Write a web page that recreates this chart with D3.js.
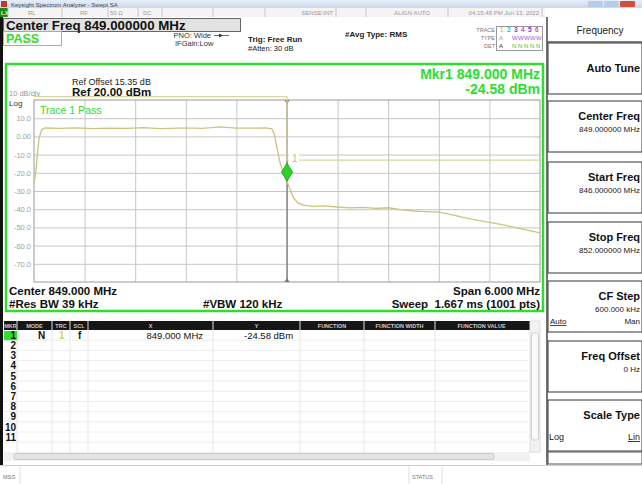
<!DOCTYPE html>
<html>
<head>
<meta charset="utf-8">
<script src="https://cdn.jsdelivr.net/npm/d3@7"></script>
<style>
  html, body { margin: 0; padding: 0; background: #fff; }
  svg { display: block; font-family: "Liberation Sans", Arial, sans-serif; }
</style>
</head>
<body>
<div class="sa-wrapper"></div>
<script>
// trace 1 (MHz / dBm)
const traceFreq = [846.000, 846.020, 846.040, 846.060, 846.090, 846.130, 846.300, 846.500, 846.700, 846.900,
  847.100, 847.300, 847.500, 847.700, 847.900, 848.000, 848.200, 848.400, 848.600, 848.750,
  848.820, 848.850, 848.880, 848.920, 848.960, 849.000, 849.040, 849.080, 849.130, 849.200,
  849.300, 849.450, 849.600, 849.750, 849.900, 850.050, 850.200, 850.350, 850.500, 850.650,
  850.800, 850.950, 851.100, 851.250, 851.400, 851.550, 851.700, 851.850, 852.000];
const traceDbm = [-25.5, -20, -10, -1, 3.5, 4.6, 4.4, 4.7, 4.3, 4.6,
  4.4, 4.8, 4.3, 4.5, 4.6, 4.4, 5.2, 4.6, 4.5, 4.7,
  4.2, 1.0, -6, -15, -20.5, -24.58, -29.5, -34, -36.5, -37.8,
  -38.4, -38.2, -38.8, -39.3, -39.0, -39.6, -39.2, -40.2, -41.0, -41.3,
  -41.6, -43.0, -44.6, -46.0, -47.3, -48.5, -50.0, -51.5, -53.0];

// limit line
const limitFreq = [846, 849, 849, 852];
const limitDbm = [21.8, 21.8, -13, -13];

const markerFreq = 849.0;
const markerDbm = -24.58;

const yTicks = [10, 0, -10, -20, -30, -40, -50, -60, -70];
const yTickLabels = ['10.0', '0.00', '-10.0', '-20.0', '-30.0', '-40.0', '-50.0', '-60.0', '-70.0'];
const xTicks = [846.6, 847.2, 847.8, 848.4, 849.0, 849.6, 850.2, 850.8, 851.4];

const statusLeft = ['RL', 'RF', '50 Ω', 'DC'];
const statusRight = ['SENSE:INT', 'ALIGN AUTO', '04:15:48 PM Jun 13, 2022'];
const statusEdges = [8, 62, 108, 138, 162, 213, 265, 336, 366, 448, 542];

const tableHeaders = ['MKR', 'MODE', 'TRC', 'SCL', 'X', 'Y', 'FUNCTION', 'FUNCTION WIDTH', 'FUNCTION VALUE'];
const tableEdges = [4, 17, 52, 70, 88, 213, 300, 364, 435, 528];
const markerRow = ['1', 'N', '1', 'f', '849.000 MHz', '-24.58 dBm'];
const rowNumbers = ['1', '2', '3', '4', '5', '6', '7', '8', '9', '10', '11'];

const keyTitles = ['Auto Tune', 'Center Freq', 'Start Freq', 'Stop Freq', 'CF Step', 'Freq Offset', 'Scale Type'];
const keyValues = ['', '849.000000 MHz', '846.000000 MHz', '852.000000 MHz', '600.000 kHz', '0 Hz', ''];
const keyTops = [43, 101, 162, 222, 281, 341, 400];

const W = 642, H = 484;
const green = '#2fdc2f';
const traceCol = '#c9c57c';

const svg = d3.select('.sa-wrapper')
  .append('svg')
  .attr('width', W)
  .attr('height', H);

// ---- title bar / status bar
const tg = svg.append('defs').append('linearGradient')
  .attr('id', 'tbar').attr('x1', 0).attr('x2', 0).attr('y1', 0).attr('y2', 1);
tg.append('stop').attr('offset', 0).attr('stop-color', '#e6eef8');
tg.append('stop').attr('offset', 1).attr('stop-color', '#c9d8ec');
svg.append('rect').attr('x', 0).attr('y', 0).attr('width', W).attr('height', 8).attr('fill', 'url(#tbar)');
svg.append('rect').attr('x', 1).attr('y', 1).attr('width', 6).attr('height', 6).attr('fill', '#c0392b');
svg.append('text').attr('x', 11).attr('y', 6.5).attr('font-size', 6).attr('fill', '#445').text('Keysight Spectrum Analyzer - Swept SA');
[[588, '#b9cde6'], [604, '#b9cde6'], [620, '#d0503a']].forEach(b => {
  svg.append('rect').attr('x', b[0]).attr('y', 1).attr('width', 15).attr('height', 6).attr('rx', 1).attr('fill', b[1]);
});

svg.append('rect').attr('x', 0).attr('y', 8).attr('width', 545).attr('height', 9).attr('fill', '#f4f4f4');
svg.append('rect').attr('x', 0).attr('y', 8).attr('width', 8).attr('height', 9).attr('fill', '#1c8a1c');
svg.append('text').attr('x', 1).attr('y', 15).attr('font-size', 6).attr('font-weight', 'bold').attr('fill', '#dfd').text('LX');
statusEdges.forEach(xx => {
  svg.append('line').attr('x1', xx).attr('x2', xx).attr('y1', 8).attr('y2', 17).attr('stroke', '#c8c8c8');
});
[28, 80, 110, 143].forEach((xx, i) => {
  svg.append('text').attr('x', xx).attr('y', 15).attr('font-size', 6).attr('fill', '#999').text(statusLeft[i]);
});
[333, 430, 539].forEach((xx, i) => {
  svg.append('text').attr('x', xx).attr('y', 15).attr('font-size', 6).attr('text-anchor', 'end').attr('fill', '#999').text(statusRight[i]);
});

// ---- analyzer area
svg.append('rect').attr('x', 0).attr('y', 17).attr('width', 3).attr('height', 448).attr('fill', '#111');
svg.append('rect').attr('x', 3.5).attr('y', 18.5).attr('width', 237).attr('height', 13).attr('fill', '#e2e2e2').attr('stroke', '#666');
svg.append('text').attr('x', 6).attr('y', 29.5).attr('font-size', 13.3).attr('font-weight', 'bold').attr('fill', '#111')
  .text('Center Freq 849.000000 MHz');
svg.append('rect').attr('x', 3.5).attr('y', 31.5).attr('width', 58).attr('height', 14).attr('fill', '#fff').attr('stroke', '#aaa');
svg.append('text').attr('x', 6).attr('y', 43).attr('font-size', 12.5).attr('font-weight', 'bold').attr('fill', green).text('PASS');

svg.append('text').attr('x', 211).attr('y', 38).attr('font-size', 7.5).attr('text-anchor', 'end').attr('fill', '#333').text('PNO: Wide');
// PNO arrow glyph
svg.append('line').attr('x1', 214).attr('x2', 229).attr('y1', 35.5).attr('y2', 35.5).attr('stroke', '#444').attr('stroke-width', 0.8);
svg.append('path').attr('d', 'M219,33.5L223,35.5L219,37.5Z').attr('fill', '#333');
svg.append('text').attr('x', 175).attr('y', 46).attr('font-size', 7.5).attr('fill', '#333').text('IFGain:Low');
svg.append('text').attr('x', 248).attr('y', 42).attr('font-size', 8).attr('font-weight', 'bold').attr('fill', '#222').text('Trig: Free Run');
svg.append('text').attr('x', 248).attr('y', 51).attr('font-size', 7.5).attr('fill', '#222').text('#Atten: 30 dB');
svg.append('text').attr('x', 345).attr('y', 37).attr('font-size', 8).attr('font-weight', 'bold').attr('fill', '#222').text('#Avg Type: RMS');

// trace status block
const trRows = [['TRACE', 29], ['TYPE', 37], ['DET', 45]];
trRows.forEach(r => {
  svg.append('text').attr('x', 495).attr('y', r[1] + 2.5).attr('font-size', 5.5).attr('text-anchor', 'end').attr('fill', '#777').text(r[0]);
});
svg.append('rect').attr('x', 496.5).attr('y', 26.5).attr('width', 46).attr('height', 24).attr('fill', 'none').attr('stroke', '#999');
const trColors = ['#e6d800', '#27b5e6', '#3b5fe0', '#e04aa0', '#6a3be0', '#e05a8a'];
trColors.forEach((c, i) => {
  svg.append('text').attr('x', 500 + i * 7).attr('y', 31.5).attr('font-size', 6.5).attr('font-weight', 'bold').attr('fill', c).text(i + 1);
  svg.append('text').attr('x', 506 + i * 6).attr('y', 39.5).attr('font-size', 6).attr('fill', '#8a6ad0').text(i === 0 ? '' : 'W');
  svg.append('text').attr('x', 506 + i * 6).attr('y', 47.5).attr('font-size', 6).attr('fill', '#35c035').text(i === 0 ? '' : 'N');
});
svg.append('text').attr('x', 499).attr('y', 39.5).attr('font-size', 6).attr('fill', '#999').text('A');
svg.append('text').attr('x', 499).attr('y', 47.5).attr('font-size', 6).attr('fill', '#333').text('A');

// green display frame
svg.append('rect').attr('x', 6).attr('y', 64).attr('width', 537).attr('height', 247)
  .attr('fill', '#fff').attr('stroke', green).attr('stroke-width', 2.5);

// ---- graticule
const plotL = 34, plotR = 540, plotT = 100, plotB = 282;
const x = d3.scaleLinear().domain([846, 852]).range([plotL, plotR]);
const y = d3.scaleLinear().domain([-80, 20]).range([plotB, plotT]);

const gx = svg.append('g')
  .attr('transform', `translate(0,${plotB})`)
  .call(d3.axisBottom(x).tickValues(xTicks).tickSize(-(plotB - plotT)).tickFormat(''));
gx.select('.domain').remove();
gx.selectAll('.tick line').attr('stroke', '#c6c6c6');

const gy = svg.append('g')
  .attr('transform', `translate(${plotL},0)`)
  .call(d3.axisLeft(y).tickValues(yTicks).tickSize(-(plotR - plotL)).tickPadding(3)
    .tickFormat((d, i) => yTickLabels[i]));
gy.select('.domain').remove();
gy.selectAll('.tick line').attr('stroke', '#c6c6c6');
gy.selectAll('.tick text').attr('fill', '#a0a0a0').attr('font-size', 7.5)
  .attr('font-family', '"Liberation Sans", Arial, sans-serif');

svg.append('rect').attr('x', plotL).attr('y', plotT).attr('width', plotR - plotL).attr('height', plotB - plotT)
  .attr('fill', 'none').attr('stroke', '#9a9a9a');

// center line with tick arrows
const cx = x(849);
svg.append('line').attr('x1', cx).attr('x2', cx).attr('y1', plotT).attr('y2', plotB).attr('stroke', '#7a7a7a').attr('stroke-width', 1.3);
svg.append('path').attr('d', `M${cx - 2.5},${plotT}L${cx + 2.5},${plotT}L${cx},${plotT + 4}Z`).attr('fill', '#777');
svg.append('path').attr('d', `M${cx - 2.5},${plotB}L${cx + 2.5},${plotB}L${cx},${plotB - 4}Z`).attr('fill', '#777');

// limit line
const limitLine = d3.line().x(d => x(d[0])).y(d => y(d[1]));
svg.append('path')
  .attr('d', limitLine(limitFreq.map((f, i) => [f, limitDbm[i]])))
  .attr('fill', 'none').attr('stroke', '#d8d6a2').attr('stroke-width', 1.3);

// trace
const traceLine = d3.line().x(d => x(d[0])).y(d => y(d[1]));
svg.append('path')
  .attr('d', traceLine(traceFreq.map((f, i) => [f, traceDbm[i]])))
  .attr('fill', 'none').attr('stroke', traceCol).attr('stroke-width', 1.3);

// marker
const mx = x(markerFreq), my = y(markerDbm);
svg.append('rect').attr('x', mx + 2).attr('y', y(-13) - 9).attr('width', 10).attr('height', 11).attr('fill', '#fff');
svg.append('path').attr('d', `M${mx},${my}L${mx + 5.5},${my - 9}L${mx},${my - 18}L${mx - 5.5},${my - 9}Z`)
  .attr('fill', '#27d427').attr('stroke', '#169a16').attr('stroke-width', 0.8);
svg.append('text').attr('x', mx + 5).attr('y', y(-13) + 2).attr('font-size', 10).attr('fill', '#c2bf6a').text('1');

// display annotations
svg.append('text').attr('x', 72).attr('y', 85).attr('font-size', 9).attr('fill', '#222').text('Ref Offset 15.35 dB');
svg.append('text').attr('x', 72).attr('y', 96).attr('font-size', 11.5).attr('font-weight', 'bold').attr('fill', '#111').text('Ref 20.00 dBm');
svg.append('text').attr('x', 9).attr('y', 96).attr('font-size', 7.5).attr('fill', '#999').text('10 dB/div');
svg.append('text').attr('x', 9).attr('y', 106).attr('font-size', 8).attr('fill', '#333').text('Log');
svg.append('text').attr('x', 40).attr('y', 114).attr('font-size', 10.5).attr('fill', green).text('Trace 1 Pass');
svg.append('text').attr('x', 540).attr('y', 79).attr('font-size', 14).attr('font-weight', 'bold').attr('text-anchor', 'end').attr('fill', green)
  .text('Mkr1 849.000 MHz');
svg.append('text').attr('x', 540).attr('y', 94).attr('font-size', 14).attr('font-weight', 'bold').attr('text-anchor', 'end').attr('fill', green)
  .text(markerDbm.toFixed(2) + ' dBm');

svg.append('text').attr('x', 9).attr('y', 295).attr('font-size', 11.5).attr('font-weight', 'bold').attr('fill', '#111').text('Center 849.000 MHz');
svg.append('text').attr('x', 9).attr('y', 308).attr('font-size', 11.5).attr('font-weight', 'bold').attr('fill', '#111').text('#Res BW 39 kHz');
svg.append('text').attr('x', 203).attr('y', 308).attr('font-size', 11.5).attr('font-weight', 'bold').attr('fill', '#111').text('#VBW 120 kHz');
svg.append('text').attr('x', 540).attr('y', 295).attr('font-size', 11.5).attr('font-weight', 'bold').attr('text-anchor', 'end').attr('fill', '#111').text('Span 6.000 MHz');
svg.append('text').attr('x', 540).attr('y', 308).attr('font-size', 11.5).attr('font-weight', 'bold').attr('text-anchor', 'end').attr('fill', '#111')
  .attr('xml:space', 'preserve').text('Sweep  1.667 ms (1001 pts)');

// ---- marker table
const tabT = 321, headH = 9, rowH = 10.2, tabB = 452;
svg.append('rect').attr('x', 4).attr('y', tabT).attr('width', 526).attr('height', headH).attr('fill', '#161616');
tableHeaders.forEach((h, i) => {
  const x0 = tableEdges[i], x1 = tableEdges[i + 1];
  svg.append('text').attr('x', (x0 + x1) / 2).attr('y', tabT + 7).attr('font-size', 5.5).attr('font-weight', 'bold')
    .attr('text-anchor', 'middle').attr('fill', '#ccc').text(h);
  if (i > 0) svg.append('line').attr('x1', x0).attr('x2', x0).attr('y1', tabT).attr('y2', tabB).attr('stroke', '#e6e6e6');
});
svg.selectAll('.hsep').data(tableEdges.slice(1, -1)).enter().append('line')
  .attr('x1', d => d).attr('x2', d => d).attr('y1', tabT).attr('y2', tabT + headH).attr('stroke', '#777');
rowNumbers.forEach((n, i) => {
  const yb = tabT + headH + rowH * (i + 1);
  svg.append('line').attr('x1', 4).attr('x2', 528).attr('y1', yb).attr('y2', yb).attr('stroke', '#ececec');
  if (i === 0) svg.append('rect').attr('x', 4).attr('y', yb - rowH + 1).attr('width', 13).attr('height', rowH - 1).attr('fill', '#2ee02e');
  svg.append('text').attr('x', 16).attr('y', yb - 1.5).attr('font-size', 10).attr('font-weight', 'bold')
    .attr('text-anchor', 'end').attr('fill', '#111').text(n);
});
const r1 = tabT + headH + rowH - 1.5;
svg.append('text').attr('x', 38).attr('y', r1).attr('font-size', 10).attr('font-weight', 'bold').attr('fill', '#111').text(markerRow[1]);
svg.append('text').attr('x', 59).attr('y', r1).attr('font-size', 10).attr('font-weight', 'bold').attr('fill', '#d4d060').text(markerRow[2]);
svg.append('text').attr('x', 78).attr('y', r1).attr('font-size', 10).attr('font-weight', 'bold').attr('fill', '#111').text(markerRow[3]);
svg.append('text').attr('x', 203).attr('y', r1).attr('font-size', 9.5).attr('text-anchor', 'end').attr('fill', '#111').text(markerRow[4]);
svg.append('text').attr('x', 244).attr('y', r1).attr('font-size', 9.5).attr('fill', '#111').text(markerRow[5]);

// scrollbars
svg.append('rect').attr('x', 530).attr('y', tabT).attr('width', 10).attr('height', tabB - tabT).attr('fill', '#f2f2f2').attr('stroke', '#ddd');
svg.append('rect').attr('x', 531.5).attr('y', tabT + 12).attr('width', 7).attr('height', tabB - tabT - 24).attr('rx', 2).attr('fill', '#fafafa').attr('stroke', '#cfcfcf');
svg.append('rect').attr('x', 4).attr('y', tabB).attr('width', 526).attr('height', 9).attr('fill', '#f2f2f2');
svg.append('rect').attr('x', 14).attr('y', tabB + 1.5).attr('width', 480).attr('height', 6).attr('rx', 2).attr('fill', '#e4e4e4').attr('stroke', '#c8c8c8');

// bottom message bar
svg.append('rect').attr('x', 0).attr('y', 465).attr('width', W).attr('height', 19).attr('fill', '#fff');
svg.append('line').attr('x1', 0).attr('x2', W).attr('y1', 465.5).attr('y2', 465.5).attr('stroke', '#cfcfcf');
[20, 409, 442].forEach(xx => {
  svg.append('line').attr('x1', xx).attr('x2', xx).attr('y1', 466).attr('y2', 484).attr('stroke', '#e0e0e0');
});
svg.append('text').attr('x', 3).attr('y', 479).attr('font-size', 5.5).attr('fill', '#777').text('MSG');
svg.append('text').attr('x', 412).attr('y', 479).attr('font-size', 5.5).attr('fill', '#777').text('STATUS');

// ---- softkey panel
svg.append('rect').attr('x', 545).attr('y', 17).attr('width', 97).attr('height', 448).attr('fill', '#fff');
svg.append('line').attr('x1', 547).attr('x2', 547).attr('y1', 17).attr('y2', 465).attr('stroke', '#444').attr('stroke-width', 1.5);
svg.append('text').attr('x', 600).attr('y', 34).attr('font-size', 10).attr('text-anchor', 'middle').attr('fill', '#222').text('Frequency');
svg.append('line').attr('x1', 547).attr('x2', W).attr('y1', 42).attr('y2', 42).attr('stroke', '#555').attr('stroke-width', 1.5);
keyTitles.forEach((t, i) => {
  const top = keyTops[i], h = 51;
  svg.append('rect').attr('x', 548).attr('y', top).attr('width', 94).attr('height', h)
    .attr('fill', '#fff').attr('stroke', '#555').attr('stroke-width', 1.2);
  const hasVal = keyValues[i] !== '' || t === 'Scale Type';
  svg.append('text').attr('x', 640).attr('y', hasVal ? top + 19 : top + 29).attr('font-size', 11).attr('font-weight', 'bold')
    .attr('text-anchor', 'end').attr('fill', '#111').text(t);
  if (keyValues[i]) {
    svg.append('text').attr('x', 640).attr('y', top + 31).attr('font-size', 8).attr('text-anchor', 'end').attr('fill', '#222').text(keyValues[i]);
  }
});
// CF Step auto/man and Scale Type log/lin
svg.append('text').attr('x', 550).attr('y', keyTops[4] + 43).attr('font-size', 8).attr('text-decoration', 'underline').attr('fill', '#222').text('Auto');
svg.append('text').attr('x', 640).attr('y', keyTops[4] + 43).attr('font-size', 8).attr('text-anchor', 'end').attr('fill', '#222').text('Man');
svg.append('text').attr('x', 549).attr('y', keyTops[6] + 40).attr('font-size', 9).attr('fill', '#222').text('Log');
svg.append('text').attr('x', 640).attr('y', keyTops[6] + 40).attr('font-size', 9).attr('text-anchor', 'end').attr('text-decoration', 'underline').attr('fill', '#222').text('Lin');
svg.append('rect').attr('x', 548).attr('y', keyTops[6] + 52).attr('width', 94).attr('height', 12).attr('fill', '#fff').attr('stroke', '#555');
</script>
</body>
</html>
